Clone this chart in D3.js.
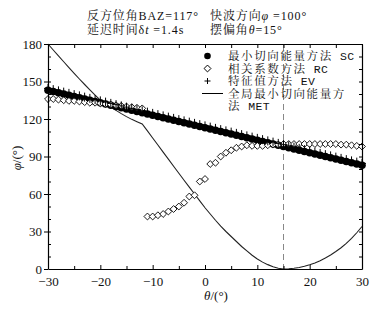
<!DOCTYPE html>
<html><head><meta charset="utf-8">
<script src="https://cdn.jsdelivr.net/npm/d3@7"></script>
<style>
body{margin:0;background:#fff}
text{font-family:"Liberation Serif","Times New Roman","Noto Serif CJK SC","Noto Sans CJK SC",serif;fill:#111}
</style>
</head><body><svg id="c" width="390" height="309"></svg>
<script>
// ---- data ----
const thetaGrid = [-30,-29,-28,-27,-26,-25,-24,-23,-22,-21,-20,-19,-18,-17,-16,-15,-14,-13,-12,-11,-10,-9,-8,-7,-6,-5,-4,-3,-2,-1,0,1,2,3,4,5,6,7,8,9,10,11,12,13,14,15,16,17,18,19,20,21,22,23,24,25,26,27,28,29,30];
const scValues = [143,142,141,140,139,138,137,136,135,134,133,132,131,130,129,128,127,126,125,124,123,122,121,120,119,118,117,116,115,114,113,112,111,110,109,108,107,106,105,104,103,102,101,100,99,98,97,96,95,94,93,92,91,90,89,88,87,86,85,84,83];
const evValues = [144.5,143.5,142.5,141.5,140.5,139.5,138.5,137.5,136.5,135.5,134.5,133.5,132.5,131.5,130.5,129.5,128.5,127.5,126.5,125.5,124.5,123.5,122.5,121.5,120.5,119.5,118.5,117.5,116.5,115.5,114.5,113.5,112.5,111.5,110.5,109.5,108.5,107.5,106.5,105.5,104.5,103.5,102.5,101.5,100.5,99.5,98.5,97.5,96.5,95.5,94.5,93.5,92.5,91.5,90.5,89.5,88.5,87.5,86.5,85.5,84.5];
const metValues = [180,175.2,170.5,165.8,161.1,156.5,152,147.6,143.3,139.1,135,132.2,129.5,126.9,124.3,121.9,119.7,117.8,116,110.5,104.8,99.2,93.5,87.9,82.2,76.6,71,65.5,60,54.5,49,44,39,34.3,30,26,22,18,14.5,11,8,5.5,3.5,1.8,0.6,0,0.2,0.6,1.2,2.2,3.4,4.8,6.6,8.8,11.2,14,17,20.5,24.5,29,34];
const rcTheta = [-30,-29,-28,-27,-26,-25,-24,-23,-22,-21,-20,-19,-18,-17,-16,-15,-14,-13,-12,-11,-10,-9,-8,-7,-6,-5,-4,-3,-2,-1,0,1,2,3,4,5,6,7,8,9,10,11,12,13,14,15,16,17,18,19,20,21,22,23,24,25,26,27,28,29,30];
const rcValues = [136,136,135.5,135,134.5,134.5,134,133.5,133,133,132.5,132,131.5,131,130.5,130,129.5,129,128.5,42,42,43,44,46,48,50,53,58,59,70,72,84,85,90,93,95,97,98,99,98.5,98.5,98.5,99,99.5,99.5,100,100,100,100,100,100,100,100,100,100,100,99.5,99.5,99,98.5,98];
const xTicks = [-30,-20,-10,0,10,20,30];
const yTicks = [0,30,60,90,120,150,180];
const thetaMark = 15;
const legendLabels = ["最小切向能量方法 SC","相关系数方法 RC","特征值方法 EV","全局最小切向能量方","法 MET"];

// ---- layout ----
const svg = d3.select("#c");
const L=48,R=362,T=44,B=269;
const x = d3.scaleLinear().domain([-30,30]).range([L,R]);
const y = d3.scaleLinear().domain([0,180]).range([B,T]);

// title
const tg = svg.append("g").style("font-size","12px").style("letter-spacing","0.9px");
function richTitle(g, xp, yp, parts){
  const t = g.append("text").attr("x",xp).attr("y",yp);
  parts.forEach(p=>{ const s=t.append("tspan").text(p[0]); if(p[1]) s.style("font-style","italic"); });
}
richTitle(tg,87,19.5,[["反方位角BAZ=117°"]]);
richTitle(tg,210,19.5,[["快波方向"],["φ",1],[" =100°"]]);
richTitle(tg,87,33.5,[["延迟时间δ"],["t",1],[" =1.4s"]]);
richTitle(tg,210,33.5,[["摆偏角"],["θ",1],["=15°"]]);

// dashed marker
svg.append("line").attr("x1",x(thetaMark)).attr("x2",x(thetaMark)).attr("y1",T).attr("y2",B)
  .attr("stroke","#888").attr("stroke-width",1).attr("stroke-dasharray","6,4");

// MET line
const lineGen = d3.line().x((d,i)=>x(thetaGrid[i])).y(d=>y(d));
svg.append("path").datum(metValues).attr("d",lineGen).attr("fill","none").attr("stroke","#222").attr("stroke-width",1.1);

// SC circles
svg.append("g").selectAll("circle").data(scValues).join("circle")
  .attr("cx",(d,i)=>x(thetaGrid[i])).attr("cy",d=>y(d)).attr("r",3.8).attr("fill","#000");
// RC diamonds
const dsym = d3.symbol().type(d3.symbolDiamond2).size(30);
svg.append("g").selectAll("path").data(rcValues).join("path")
  .attr("transform",(d,i)=>`translate(${x(rcTheta[i])},${y(d)})`)
  .attr("d",dsym).attr("fill","#fff").attr("stroke","#000").attr("stroke-width",0.9);
// EV plus
svg.append("g").selectAll("path").data(evValues).join("path")
  .attr("transform",(d,i)=>`translate(${x(thetaGrid[i])},${y(d)})`)
  .attr("d","M-4,0H4M0,-4.5V4.5").attr("stroke","#000").attr("stroke-width",1).attr("fill","none");

// axes
const fs="13px";
const ax = svg.append("g").attr("transform",`translate(0,${B})`)
  .call(d3.axisBottom(x).tickValues(xTicks).tickSizeInner(-4).tickSizeOuter(0).tickPadding(8).tickFormat(d=>d<0?"−"+(-d):d));
ax.selectAll("text").style("font-size",fs);
svg.append("g").attr("transform",`translate(0,${B})`)
  .call(d3.axisTop(x).tickValues([-25,-15,-5,5,15,25]).tickSize(3).tickFormat(""))
  .select(".domain").remove();
svg.append("g").attr("transform",`translate(0,${T})`)
  .call(d3.axisBottom(x).tickValues([-30,-25,-20,-15,-10,-5,0,5,10,15,20,25,30]).tickSize(4).tickSizeOuter(0).tickFormat(""));
const ay = svg.append("g").attr("transform",`translate(${L},0)`)
  .call(d3.axisLeft(y).tickValues(yTicks).tickSize(4).tickSizeOuter(0).tickPadding(2));
ay.selectAll("text").style("font-size",fs);
svg.append("g").attr("transform",`translate(${L},0)`)
  .call(d3.axisRight(y).tickValues([10,20,30,40,50,60,70,80,90,100,110,120,130,140,150,160,170]).tickSize(3).tickFormat(""))
  .select(".domain").remove();
svg.append("g").attr("transform",`translate(${R},0)`)
  .call(d3.axisLeft(y).tickValues([10,20,30,40,50,60,70,80,90,100,110,120,130,140,150,160,170]).tickSize(3).tickSizeOuter(0).tickFormat(""));
svg.selectAll(".domain").attr("stroke","#000").attr("stroke-width",1.2);

// axis titles
const xl = svg.append("text").attr("x",216).attr("y",300).attr("text-anchor","middle").style("font-size",fs);
xl.append("tspan").text("θ").style("font-style","italic"); xl.append("tspan").text("/(°)");
const yl = svg.append("text").attr("transform","translate(21,158) rotate(-90)").attr("text-anchor","middle").style("font-size",fs);
yl.append("tspan").text("φ").style("font-style","italic"); yl.append("tspan").text("/(°)");

// legend
const lg = svg.append("g").style("font-size","11.5px");
const ly = [56,68.5,81,93.5,106];
lg.append("circle").attr("cx",207.5).attr("cy",ly[0]).attr("r",3.3).attr("fill","#000");
lg.append("path").attr("transform",`translate(207.5,${ly[1]})`).attr("d",dsym).attr("fill","#fff").attr("stroke","#000");
lg.append("path").attr("transform",`translate(207.5,${ly[2]})`).attr("d","M-3,0H3M0,-3V3").attr("stroke","#000");
lg.append("line").attr("x1",202).attr("x2",223).attr("y1",ly[3]).attr("y2",ly[3]).attr("stroke","#000");
legendLabels.forEach((s,i)=>{
  const m = s.match(/^(.*?)( ?[A-Z]+)$/);
  const t = lg.append("text").attr("x",228).attr("y",ly[i]+4.2).style("letter-spacing","1.6px");
  t.append("tspan").text(m?m[1]:s);
  if(m) t.append("tspan").text(m[2]).style("font-family","'Liberation Mono','DejaVu Sans Mono',monospace").style("font-size","11.5px").style("letter-spacing","0.3px");
});
</script></body></html>
